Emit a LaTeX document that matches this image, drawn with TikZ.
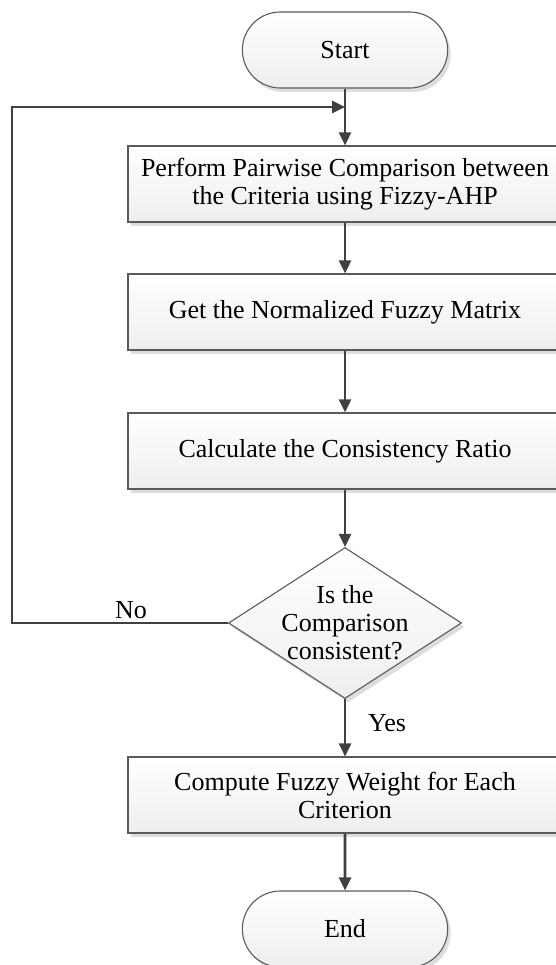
\documentclass[tikz,border=0pt]{standalone}
\usepackage{fontspec}
\setmainfont{Liberation Serif}
\usetikzlibrary{calc,arrows.meta,shapes.geometric,shapes.misc,shadows}
\definecolor{ink}{HTML}{404040}
\definecolor{rim}{HTML}{5A5A5A}
\definecolor{paper}{HTML}{EEEEEE}
\begin{document}
\begin{tikzpicture}[x=1pt,y=-1pt,font=\fontsize{26}{28}\selectfont,
  shapebase/.style={draw=rim,line width=1.1pt,top color=white,bottom color=paper,
    drop shadow={shadow xshift=3pt,shadow yshift=-4pt,fill=gray!45,opacity=0.6}},
  terminal/.style={shapebase,rounded rectangle,minimum width=212pt,minimum height=76pt},
  process/.style={shapebase,rectangle,minimum width=434pt,minimum height=76pt,align=center,inner sep=0pt},
  decision/.style={shapebase,diamond,minimum width=233pt,minimum height=151pt,align=center,inner sep=-14pt},
  flow/.style={-{Triangle[length=13pt,width=12pt]},ink,line width=2.6pt}]
\useasboundingbox (0,0) rectangle (555,965);
\node[terminal] (start) at (345,50) {Start};
\node[process] (pairwise) at (345,184) {Perform Pairwise Comparison between\\the Criteria using Fizzy-AHP};
\node[process] (normal) at (345,312) {Get the Normalized Fuzzy Matrix};
\node[process] (ratio) at (345,451) {Calculate the Consistency Ratio};
\node[decision] (check) at (345,623) {Is the\\Comparison\\consistent?};
\node[process] (weight) at (345,795) {Compute Fuzzy Weight for Each\\Criterion};
\node[terminal] (finish) at (345,929) {End};
\coordinate (merge) at (345,107);
% main line
\draw[flow] (start.south) -- (pairwise.north);
\draw[flow] (pairwise) -- (normal);
\draw[flow] (normal) -- (ratio);
\draw[flow] (ratio) -- (check);
\draw[flow] (check) -- (weight);
\draw[flow] (weight) -- (finish);
% back to the comparison step
\draw[flow] (check.west) -- ++(-216,0) |- (merge);
\node (no) at ($(check.west)+(-97,-13)$) {No};
\node (yes) at ($(check.south)+(42,24)$) {Yes};
\end{tikzpicture}
\end{document}
